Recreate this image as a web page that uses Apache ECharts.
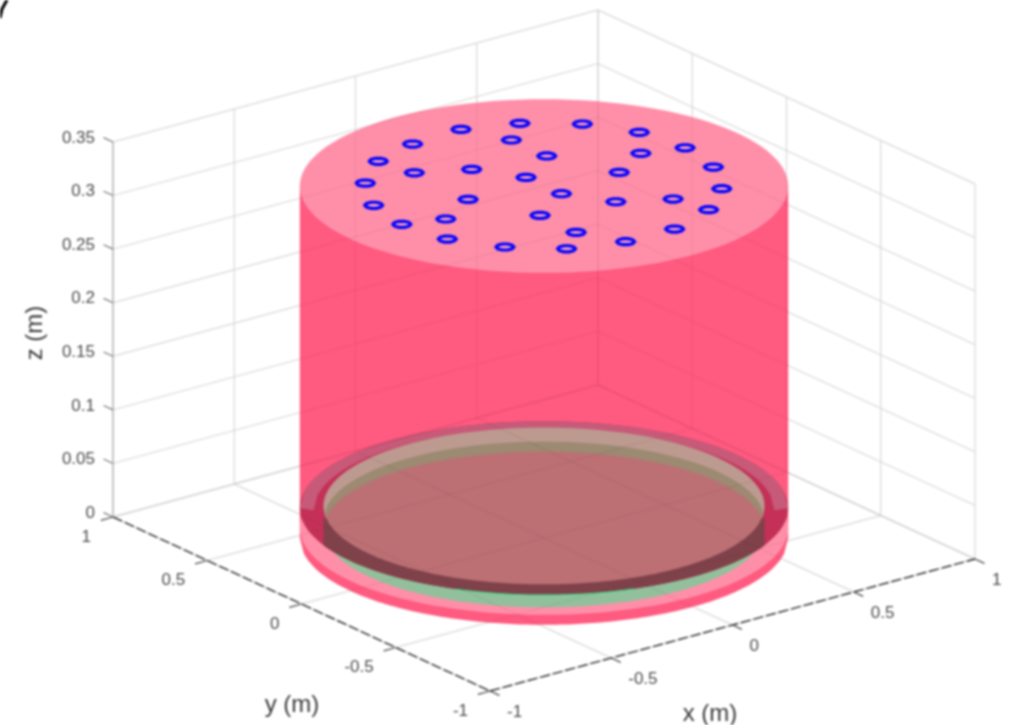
<!DOCTYPE html>
<html><head><meta charset="utf-8">
<style>html,body{margin:0;padding:0;background:#fff}#c{width:1023px;height:725px;filter:blur(0.8px)}</style>
<script src="https://cdn.jsdelivr.net/npm/echarts@6/dist/echarts.min.js"></script>
</head><body><div id="c"></div>
<script>
// ---- chart values (metres) ----
const xTicks = [-1, -0.5, 0, 0.5, 1];
const yTicks = [1, 0.5, 0, -0.5, -1];
const zTicks = [0, 0.05, 0.1, 0.15, 0.2, 0.25, 0.3, 0.35];
const xTickLabels = ['-1', '-0.5', '0', '0.5', '1'];
const yTickLabels = ['1', '0.5', '0', '-0.5', '-1'];
const zTickLabels = ['0', '0.05', '0.1', '0.15', '0.2', '0.25', '0.3', '0.35'];
const ringX = [0.103,0.290,0.448,0.549,-0.105,0.174,0.581,0.435,0.176,-0.291,-0.094,-0.262,0.272,0.546,0.002,-0.447,0.446,0.002,0.098,0.262,-0.272,-0.550,0.294,-0.440,-0.175,-0.584,0.097,-0.177,-0.549,-0.101,-0.444,-0.294];
const ringY = [0.573,0.501,0.373,0.201,0.562,0.397,-0.001,0.046,0.212,0.505,0.263,0.351,-0.049,-0.196,0.098,0.373,-0.369,-0.090,-0.255,-0.348,0.053,0.196,-0.495,-0.045,-0.204,0.003,-0.568,-0.398,-0.193,-0.563,-0.364,-0.498];
const ringZ = 0.3285;
const ringRadius = 0.029;
const outerR = 0.795, innerR = 0.718, rimLowR = 0.75;
const topZ = 0.3285, bandZ = 0.0093, rimZ = 0.028, rimLowZ = 0.026;
const greenZ = 0.0084, innerTopZ = 0.0299, taupeZ = 0.0168, interiorZ = 0.0075, wallZ = 0.0187;

// ---- 3-D view (orthographic) ----
const O = [544, 538], UX = [242.5, -66], UY = [-188.5, -87], KZ = 375 / 0.35;
const A = Math.hypot(UX[0], UY[0]), B = Math.hypot(UX[1], UY[1]);
const P = (x, y, z) => [O[0] + UX[0] * x + UY[0] * y, O[1] + UX[1] * x + UY[1] * y - KZ * z];
const N = 120;
const circle = (r, z) => {
  const c = P(0, 0, z), out = [];
  for (let i = 0; i < N; i++) { const t = i / N * 2 * Math.PI; out.push([c[0] + A * r * Math.cos(t), c[1] + B * r * Math.sin(t)]); }
  return out;
};
const arcY = (r, z, dx, sign) => P(0, 0, z)[1] + sign * B * r * Math.sqrt(Math.max(0, 1 - (dx / (A * r)) ** 2));
// region inside both discs of radius r at heights zHigh and zLow
const lens = (r, zHigh, zLow) => {
  const gap = (P(0, 0, zHigh)[1] - P(0, 0, zLow)[1]) / 2;
  const w = A * r * Math.sqrt(Math.max(0, 1 - (gap / (B * r)) ** 2));
  const top = [], bot = [];
  for (let i = 0; i <= N; i++) {
    const dx = -w + 2 * w * i / N;
    top.push([O[0] + dx, arcY(r, zLow, dx, -1)]);
    bot.unshift([O[0] + dx, arcY(r, zHigh, dx, 1)]);
  }
  return top.concat(bot);
};
const body = () => {
  const c = P(0, 0, topZ), w = A * outerR, low = [];
  for (let i = 0; i <= N; i++) { const dx = w - 2 * w * i / N; low.push([O[0] + dx, arcY(outerR, 0, dx, 1)]); }
  return [[O[0] - w, c[1]], [O[0] + w, c[1]]].concat(low);
};
const crescent = () => {
  const w = A * outerR, wLow = A * rimLowR, top = [], bot = [];
  for (let i = 0; i <= N; i++) {
    const dx = -w + 2 * w * i / N;
    top.push([O[0] + dx, arcY(outerR, rimZ, dx, -1)]);
    const dl = -wLow + 2 * wLow * i / N;
    bot.unshift([O[0] + dl, arcY(rimLowR, rimLowZ, dl, -1)]);
  }
  return top.concat(bot);
};
const wall = () => {
  const w = A * innerR, pts = [[O[0] - w, P(0, 0, wallZ)[1]], [O[0] + w, P(0, 0, wallZ)[1]]];
  for (let i = 0; i <= N; i++) { const dx = w - 2 * w * i / N; pts.push([O[0] + dx, arcY(outerR, rimZ, dx, 1)]); }
  return pts;
};
const glint = () => {
  const pts = [];
  for (let i = 0; i <= 40; i++) { const dx = -88 + 178 * i / 40; pts.push([O[0] + dx, arcY(outerR, rimZ, dx, 1) + 0.5]); }
  return pts;
};
const layers = [
  { pts: body(), fill: '#ff5a80' },
  { pts: circle(outerR, bandZ), fill: '#ff8fa8' },
  { pts: circle(innerR, greenZ), fill: '#92c09c' },
  { pts: circle(outerR, rimZ), fill: '#c43058' },
  { pts: crescent(), fill: '#c75a78' },
  { pts: circle(innerR, innerTopZ), fill: '#bd9a90' },
  { pts: lens(innerR, innerTopZ, taupeZ), fill: '#9c8a72' },
  { pts: wall(), fill: '#7f424a' },
  { pts: lens(innerR, innerTopZ, interiorZ), fill: '#bc7074' },
  { pts: circle(outerR, topZ), fill: '#ff8fa8' }
];

// ---- grid segments ----
const segs = [];
xTicks.forEach(v => {
  segs.push([P(v, -1, 0), P(v, 1, 0)]);
  segs.push([P(v, 1, 0), P(v, 1, 0.35)]);
});
yTicks.forEach(v => {
  segs.push([P(-1, v, 0), P(1, v, 0)]);
  segs.push([P(1, v, 0), P(1, v, 0.35)]);
});
zTicks.forEach(v => {
  segs.push([P(-1, 1, v), P(1, 1, v)]);
  segs.push([P(1, 1, v), P(1, -1, v)]);
});
const ticks = [];
xTicks.forEach(v => ticks.push([P(v, -1, 0), P(v, -1.05, 0)]));
yTicks.forEach(v => ticks.push([P(-1, v, 0), P(-1.05, v, 0)]));
const zTickSegs = zTicks.map(v => [P(-1, 1, v), P(-1, 1.05, v)]);

const labels = [];
xTicks.forEach((v, i) => { const p = P(v, -1, 0); labels.push({ t: xTickLabels[i], x: p[0] + 17, y: p[1] + 21, a: 'left' }); });
yTicks.forEach((v, i) => { const p = P(-1, v, 0); labels.push({ t: yTickLabels[i], x: p[0] - 22, y: p[1] + 20, a: 'right' }); });
zTicks.forEach((v, i) => { const p = P(-1, 1, v); labels.push({ t: zTickLabels[i], x: p[0] - 18, y: p[1] - 4, a: 'right' }); });
const titles = [
  { t: 'x (m)', x: 710, y: 714, r: 0 },
  { t: 'y (m)', x: 292, y: 705, r: 0 },
  { t: 'z (m)', x: 35, y: 333, r: Math.PI / 2 }
];

const lineSeries = (name, data, style, z) => ({
  type: 'custom', name, coordinateSystem: 'cartesian2d', silent: true, z,
  data: data.map((_, i) => [i]), encode: { x: 0, y: 0 },
  renderItem: (p, api) => {
    const s = data[p.dataIndex];
    return { type: 'polyline', shape: { points: s.map(q => api.coord(q)) }, style };
  }
});

const option = {
  animation: false, backgroundColor: '#fff',
  grid: { left: 0, right: 0, top: 0, bottom: 0 },
  xAxis: { type: 'value', min: 0, max: 1023, show: false },
  yAxis: { type: 'value', min: 0, max: 725, inverse: true, show: false },
  tooltip: { show: false },
  graphic: [{ type: 'polyline', shape: { points: [[0, 18], [2, 9], [7, 0]] }, style: { stroke: '#000', lineWidth: 3, fill: null } }],
  series: [
    lineSeries('grid', segs, { stroke: '#ebebeb', lineWidth: 1.4, fill: null }, 1),
    {
      type: 'custom', name: 'cylinder', coordinateSystem: 'cartesian2d', silent: true, z: 2,
      data: layers.map((_, i) => [i]), encode: { x: 0, y: 0 },
      renderItem: (p, api) => {
        const l = layers[p.dataIndex];
        return { type: 'polygon', shape: { points: l.pts.map(q => api.coord(q)) }, style: { fill: l.fill, stroke: null } };
      }
    },
    lineSeries('glint', [glint()], { stroke: '#4fdc8e', lineWidth: 1.4, fill: null }, 3),
    lineSeries('grid-through', segs, { stroke: 'rgba(90,40,50,0.06)', lineWidth: 1.4, fill: null }, 4),
    lineSeries('edges', [[P(-1, 1, 0), P(-1, -1, 0)], [P(-1, -1, 0), P(1, -1, 0)]], { stroke: '#2e2e2e', lineWidth: 1.4, lineDash: [10, 3], fill: null }, 5),
    lineSeries('ticks', ticks, { stroke: '#444', lineWidth: 1.2, fill: null }, 5),
    lineSeries('z-axis', [[P(-1, 1, 0), P(-1, 1, 0.35)]], { stroke: '#c4c4c4', lineWidth: 2, fill: null }, 5),
    lineSeries('z-ticks', zTickSegs, { stroke: '#777', lineWidth: 1.2, fill: null }, 5),
    {
      type: 'custom', name: 'rings', coordinateSystem: 'cartesian2d', silent: true, z: 6,
      data: ringX.map((x, i) => [x, ringY[i]]), encode: { x: 0, y: 1 },
      renderItem: (p, api) => {
        const pts = [];
        const c = P(api.value(0), api.value(1), ringZ);
        for (let i = 0; i < 10; i++) {
          const t = i / 10 * 2 * Math.PI;
          pts.push(api.coord([c[0] + A * ringRadius * Math.cos(t), c[1] + B * ringRadius * Math.sin(t)]));
        }
        return { type: 'polygon', shape: { points: pts }, style: { fill: 'rgba(255,170,190,0.7)', stroke: '#0000ff', lineWidth: 3.2 } };
      }
    },
    {
      type: 'custom', name: 'tick-labels', coordinateSystem: 'cartesian2d', silent: true, z: 7,
      data: labels.map((_, i) => [i]), encode: { x: 0, y: 0 },
      renderItem: (p, api) => {
        const l = labels[p.dataIndex], q = api.coord([l.x, l.y]);
        return { type: 'text', x: q[0], y: q[1], style: { text: l.t, font: '17px "Liberation Sans"', fill: '#4a4a4a', align: l.a, verticalAlign: 'middle' } };
      }
    },
    {
      type: 'custom', name: 'axis-titles', coordinateSystem: 'cartesian2d', silent: true, z: 7,
      data: titles.map((_, i) => [i]), encode: { x: 0, y: 0 },
      renderItem: (p, api) => {
        const l = titles[p.dataIndex], q = api.coord([l.x, l.y]);
        return { type: 'text', x: q[0], y: q[1], rotation: l.r, originX: 0, originY: 0, style: { text: l.t, font: '24px "Liberation Sans"', fill: '#3a3a3a', align: 'center', verticalAlign: 'middle' } };
      }
    }
  ]
};
echarts.init(document.getElementById('c')).setOption(option);
</script></body></html>
